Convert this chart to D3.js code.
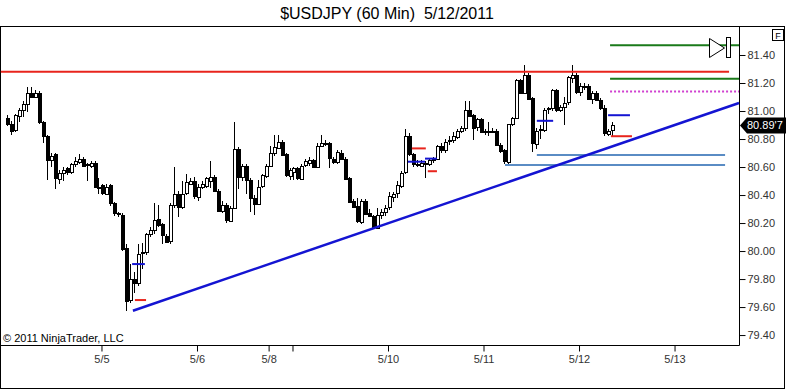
<!DOCTYPE html>
<html>
<head>
<meta charset="utf-8">
<script src="https://cdn.jsdelivr.net/npm/d3@7"></script>
<style>
  body { margin: 0; background: #fff; }
  svg { display: block; font-family: "Liberation Sans", Arial, sans-serif; }
</style>
</head>
<body>
<svg id="chart" width="786" height="391"></svg>
<script>
// hourly bars, first bar 5/4 01:00, last bar 5/12 08:00
const opens = [
  80.95, 80.91, 80.86, 80.97, 81.01, 81.05, 81.13, 81.10, 81.13, 80.92,
  80.82, 80.65, 80.69, 80.52, 80.56, 80.59, 80.56, 80.62, 80.64, 80.66,
  80.61, 80.61, 80.63, 80.46, 80.47, 80.41, 80.47, 80.34, 80.27, 80.26,
  80.02, 79.65, 79.80, 79.77, 79.98, 79.99, 80.12, 80.15, 80.23, 80.19,
  80.11, 80.07, 80.33, 80.41, 80.32, 80.41, 80.48, 80.50, 80.39, 80.46,
  80.46, 80.50, 80.53, 80.43, 80.29, 80.33, 80.22, 80.31, 80.73, 80.53,
  80.61, 80.51, 80.38, 80.34, 80.46, 80.54, 80.61, 80.70, 80.74, 80.78,
  80.69, 80.54, 80.56, 80.59, 80.52, 80.61, 80.63, 80.65, 80.60, 80.75,
  80.76, 80.77, 80.66, 80.64, 80.70, 80.66, 80.52, 80.36, 80.32, 80.21,
  80.36, 80.27, 80.25, 80.17, 80.26, 80.28, 80.31, 80.39, 80.41, 80.47,
  80.56, 80.82, 80.69, 80.62, 80.61, 80.63, 80.62, 80.65, 80.66, 80.75,
  80.72, 80.78, 80.79, 80.82, 80.86, 80.88, 81.01, 80.97, 80.88, 80.94,
  80.86, 80.85, 80.86, 80.86, 80.76, 80.72, 80.64, 80.91, 80.95, 81.22,
  81.13, 81.26, 81.09, 80.77, 80.86, 80.87, 81.01, 81.02, 81.15, 81.01,
  81.03, 81.06, 81.24, 81.26, 81.14, 81.18, 81.18, 81.09, 81.13, 81.08,
  81.02, 80.84, 80.86
];
const highs = [
  80.97, 80.93, 80.98, 81.02, 81.07, 81.17, 81.17, 81.15, 81.14, 80.93,
  80.83, 80.70, 80.70, 80.58, 80.60, 80.60, 80.63, 80.67, 80.69, 80.67,
  80.63, 80.64, 80.64, 80.52, 80.48, 80.48, 80.48, 80.35, 80.28, 80.27,
  80.05, 79.91, 79.85, 80.05, 80.06, 80.13, 80.17, 80.34, 80.33, 80.20,
  80.12, 80.34, 80.60, 80.43, 80.50, 80.55, 80.52, 80.53, 80.48, 80.50,
  80.53, 80.64, 80.54, 80.44, 80.36, 80.34, 80.32, 80.92, 80.74, 80.62,
  80.62, 80.52, 80.40, 80.51, 80.55, 80.62, 80.75, 80.83, 80.83, 80.79,
  80.70, 80.59, 80.60, 80.60, 80.62, 80.66, 80.67, 80.66, 80.77, 80.83,
  80.79, 80.78, 80.67, 80.72, 80.72, 80.67, 80.53, 80.37, 80.38, 80.37,
  80.37, 80.30, 80.26, 80.31, 80.30, 80.33, 80.42, 80.42, 80.50, 80.57,
  80.87, 80.84, 80.70, 80.65, 80.65, 80.64, 80.66, 80.67, 80.76, 80.77,
  80.80, 80.82, 80.85, 80.87, 80.89, 81.07, 81.07, 80.98, 80.95, 80.95,
  80.87, 80.92, 80.88, 80.87, 80.77, 80.73, 80.91, 80.96, 81.23, 81.23,
  81.33, 81.27, 81.10, 80.88, 80.90, 81.02, 81.03, 81.16, 81.16, 81.04,
  81.10, 81.25, 81.33, 81.27, 81.20, 81.20, 81.19, 81.14, 81.14, 81.09,
  81.04, 80.87, 80.92
];
const lows = [
  80.89, 80.83, 80.85, 80.92, 80.96, 80.99, 81.09, 81.09, 80.91, 80.77,
  80.51, 80.60, 80.44, 80.48, 80.50, 80.54, 80.55, 80.60, 80.62, 80.60,
  80.50, 80.59, 80.45, 80.41, 80.40, 80.40, 80.32, 80.25, 80.24, 80.00,
  79.57, 79.63, 79.70, 79.75, 79.87, 79.97, 80.10, 80.12, 80.17, 80.05,
  80.06, 80.05, 80.31, 80.24, 80.30, 80.40, 80.47, 80.37, 80.36, 80.44,
  80.45, 80.45, 80.42, 80.28, 80.27, 80.20, 80.21, 80.30, 80.44, 80.50,
  80.41, 80.28, 80.26, 80.33, 80.45, 80.52, 80.60, 80.68, 80.73, 80.68,
  80.53, 80.51, 80.51, 80.51, 80.51, 80.60, 80.61, 80.59, 80.59, 80.74,
  80.75, 80.59, 80.62, 80.62, 80.65, 80.51, 80.35, 80.31, 80.20, 80.19,
  80.26, 80.24, 80.16, 80.16, 80.23, 80.25, 80.29, 80.35, 80.38, 80.45,
  80.55, 80.68, 80.60, 80.60, 80.60, 80.52, 80.61, 80.63, 80.65, 80.70,
  80.70, 80.76, 80.77, 80.80, 80.84, 80.86, 80.96, 80.79, 80.86, 80.84,
  80.83, 80.82, 80.84, 80.76, 80.70, 80.62, 80.62, 80.89, 80.94, 81.12,
  81.12, 81.08, 80.71, 80.73, 80.80, 80.85, 80.98, 81.00, 80.99, 80.99,
  80.90, 81.04, 81.20, 81.12, 81.11, 81.15, 81.08, 81.05, 81.07, 81.01,
  80.82, 80.82, 80.82
];
const closes = [
  80.91, 80.86, 80.97, 81.01, 81.05, 81.13, 81.10, 81.13, 80.92, 80.82,
  80.65, 80.68, 80.52, 80.56, 80.58, 80.56, 80.62, 80.64, 80.66, 80.61,
  80.62, 80.63, 80.46, 80.45, 80.41, 80.46, 80.34, 80.27, 80.26, 80.02,
  79.64, 79.80, 79.77, 79.98, 79.99, 80.12, 80.15, 80.22, 80.19, 80.11,
  80.07, 80.33, 80.41, 80.32, 80.41, 80.49, 80.50, 80.39, 80.46, 80.48,
  80.52, 80.53, 80.43, 80.29, 80.33, 80.22, 80.31, 80.73, 80.53, 80.61,
  80.51, 80.38, 80.34, 80.46, 80.54, 80.61, 80.70, 80.74, 80.78, 80.69,
  80.54, 80.58, 80.59, 80.52, 80.61, 80.64, 80.65, 80.60, 80.75, 80.77,
  80.77, 80.66, 80.64, 80.71, 80.66, 80.52, 80.35, 80.32, 80.21, 80.36,
  80.27, 80.25, 80.17, 80.26, 80.28, 80.31, 80.39, 80.41, 80.47, 80.56,
  80.82, 80.69, 80.62, 80.61, 80.63, 80.62, 80.65, 80.66, 80.75, 80.72,
  80.78, 80.79, 80.82, 80.86, 80.88, 81.01, 80.97, 80.88, 80.94, 80.85,
  80.85, 80.86, 80.85, 80.76, 80.72, 80.64, 80.91, 80.95, 81.22, 81.13,
  81.26, 81.09, 80.77, 80.86, 80.87, 81.01, 81.02, 81.15, 81.01, 81.03,
  81.06, 81.24, 81.26, 81.14, 81.18, 81.17, 81.09, 81.13, 81.08, 81.02,
  80.84, 80.86, 80.897
];

// session start ticks, in bar units (the 5/9 tick has no label)
const dayTicks = [23.5, 47.5, 65.5, 71.5, 95.5, 119.5, 143.5, 167.5];
const dayLabels = ["5/5", "5/6", "5/8", "", "5/10", "5/11", "5/12", "5/13"];
const priceTicks = [79.4, 79.6, 79.8, 80.0, 80.2, 80.4, 80.6, 80.8, 81.0, 81.2, 81.4];
const lastPrice = 80.897;

// chart drawings: [kind, fromBar, fromPrice, toBar, toPrice]
const drawings = [
  ["resist", -1.8, 81.28, 181.2, 81.28],
  ["green", 151.3, 81.47, 183.7, 81.47],
  ["green", 151.3, 81.23, 183.7, 81.23],
  ["dotted", 151.3, 81.14, 183.7, 81.14],
  ["steel", 132.9, 80.686, 180.2, 80.686],
  ["steel", 124.9, 80.614, 180.2, 80.614],
  ["trend", 31.4, 79.574, 183.7, 81.057],
  ["blue", 31.2, 79.907, 34.4, 79.907],
  ["red", 31.9, 79.65, 34.7, 79.65],
  ["blue", 100.5, 80.638, 104.8, 80.638],
  ["blue", 104.8, 80.66, 107.8, 80.66],
  ["red", 101.5, 80.733, 105.0, 80.733],
  ["red", 105.5, 80.57, 107.8, 80.57],
  ["blue", 132.9, 80.93, 137.0, 80.93],
  ["blue", 150.8, 80.97, 156.3, 80.97],
  ["red", 151.5, 80.82, 156.8, 80.82]
];

const svg = d3.select("#chart");
const plotLeft = 1, plotTop = 27, axisX = 739, plotBottom = 345;

const x = d3.scaleLinear().domain([-1.75, 183.7]).range([plotLeft, axisX]);
const y = d3.scaleLinear().domain([79.329, 81.6]).range([plotBottom, plotTop]);

// title
svg.append("text")
    .attr("x", 387)
    .attr("y", 19)
    .attr("text-anchor", "middle")
    .attr("font-size", 16)
    .attr("fill", "#000")
    .style("white-space", "pre")
    .text("$USDJPY (60 Min)  5/12/2011");

// outer frame and plot frame
svg.append("rect")
    .attr("x", 0.5).attr("y", plotTop - 0.5)
    .attr("width", 784).attr("height", 362)
    .attr("fill", "none").attr("stroke", "#000");
svg.append("path")
    .attr("d", `M${plotLeft - 1},${plotBottom + 0.5}H${axisX + 0.5}V${plotTop}`)
    .attr("fill", "none").attr("stroke", "#000");

// price axis
const yAxis = d3.axisRight(y)
    .tickValues(priceTicks)
    .tickSize(6)
    .tickPadding(2)
    .tickFormat(d3.format(".2f"));
const gy = svg.append("g")
    .attr("transform", `translate(${axisX + 0.5},0)`)
    .call(yAxis);
gy.select(".domain").remove();
gy.selectAll("text").attr("font-size", 11).attr("fill", "#333")
    .attr("font-family", "Liberation Sans, Arial, sans-serif");

// time axis
const xAxis = d3.axisBottom(x)
    .tickValues(dayTicks)
    .tickSize(6)
    .tickPadding(4)
    .tickFormat((d, i) => dayLabels[i]);
const gx = svg.append("g")
    .attr("transform", `translate(0,${plotBottom + 0.5})`)
    .call(xAxis);
gx.select(".domain").remove();
gx.selectAll("text").attr("font-size", 11).attr("fill", "#333")
    .attr("font-family", "Liberation Sans, Arial, sans-serif");

// candles
const bars = d3.range(closes.length);
const cx = i => Math.round(x(i));
const plot = svg.append("g").attr("shape-rendering", "crispEdges");

plot.selectAll("line.wick")
  .data(bars)
  .join("line")
    .attr("class", "wick")
    .attr("x1", i => cx(i) - 0.5)
    .attr("x2", i => cx(i) - 0.5)
    .attr("y1", i => y(highs[i]))
    .attr("y2", i => y(lows[i]))
    .attr("stroke", "#000");

plot.selectAll("rect.body")
  .data(bars)
  .join("rect")
    .attr("class", "body")
    .attr("x", i => cx(i) - 1.5)
    .attr("y", i => Math.round(y(Math.max(opens[i], closes[i]))) + 0.5)
    .attr("width", 3)
    .attr("height", i => Math.max(1, Math.round(Math.abs(y(opens[i]) - y(closes[i])))))
    .attr("fill", i => closes[i] >= opens[i] ? "#fff" : "#000")
    .attr("stroke", "#000")
    .attr("shape-rendering", "auto");

// drawings
const style = {
  resist: {stroke: "#e8241c", width: 2},
  green: {stroke: "#1a7a1a", width: 2},
  dotted: {stroke: "#d040d0", width: 2, dash: "2,2"},
  steel: {stroke: "#5a8cc4", width: 2},
  trend: {stroke: "#1414d2", width: 2.5},
  blue: {stroke: "#1414d2", width: 2},
  red: {stroke: "#e8241c", width: 2}
};
svg.append("g").selectAll("line")
  .data(drawings)
  .join("line")
    .attr("x1", d => x(d[1]))
    .attr("y1", d => y(d[2]))
    .attr("x2", d => x(d[3]))
    .attr("y2", d => y(d[4]))
    .attr("stroke", d => style[d[0]].stroke)
    .attr("stroke-width", d => style[d[0]].width)
    .attr("stroke-dasharray", d => style[d[0]].dash || null);

// scroll-to-end icon
const icon = svg.append("g").attr("fill", "none").attr("stroke", "#000");
icon.append("path").attr("d", "M709.5,38.5V57.5L724.5,48Z").attr("fill", "#fff");
icon.append("rect").attr("x", 726.5).attr("y", 37.5).attr("width", 4).attr("height", 20).attr("fill", "#fff");

// "F" box
svg.append("rect")
    .attr("x", 772.5).attr("y", 29.5).attr("width", 11).attr("height", 11)
    .attr("fill", "#fff").attr("stroke", "#000");
svg.append("text")
    .attr("x", 778).attr("y", 38.5)
    .attr("text-anchor", "middle")
    .attr("font-size", 9)
    .text("F");

// last price marker
const ly = y(lastPrice);
svg.append("path")
    .attr("d", `M${axisX + 1},${ly}L${axisX + 8},${ly - 8}H786V${ly + 8}H${axisX + 8}Z`)
    .attr("fill", "#000");
svg.append("text")
    .attr("x", 747)
    .attr("y", ly + 4)
    .attr("font-size", 11)
    .attr("fill", "#fff")
    .text("80.89'7");

// copyright
svg.append("text")
    .attr("x", 3)
    .attr("y", 342)
    .attr("font-size", 11)
    .attr("fill", "#000")
    .text("\u00a9 2011 NinjaTrader, LLC");
</script>
</body>
</html>
